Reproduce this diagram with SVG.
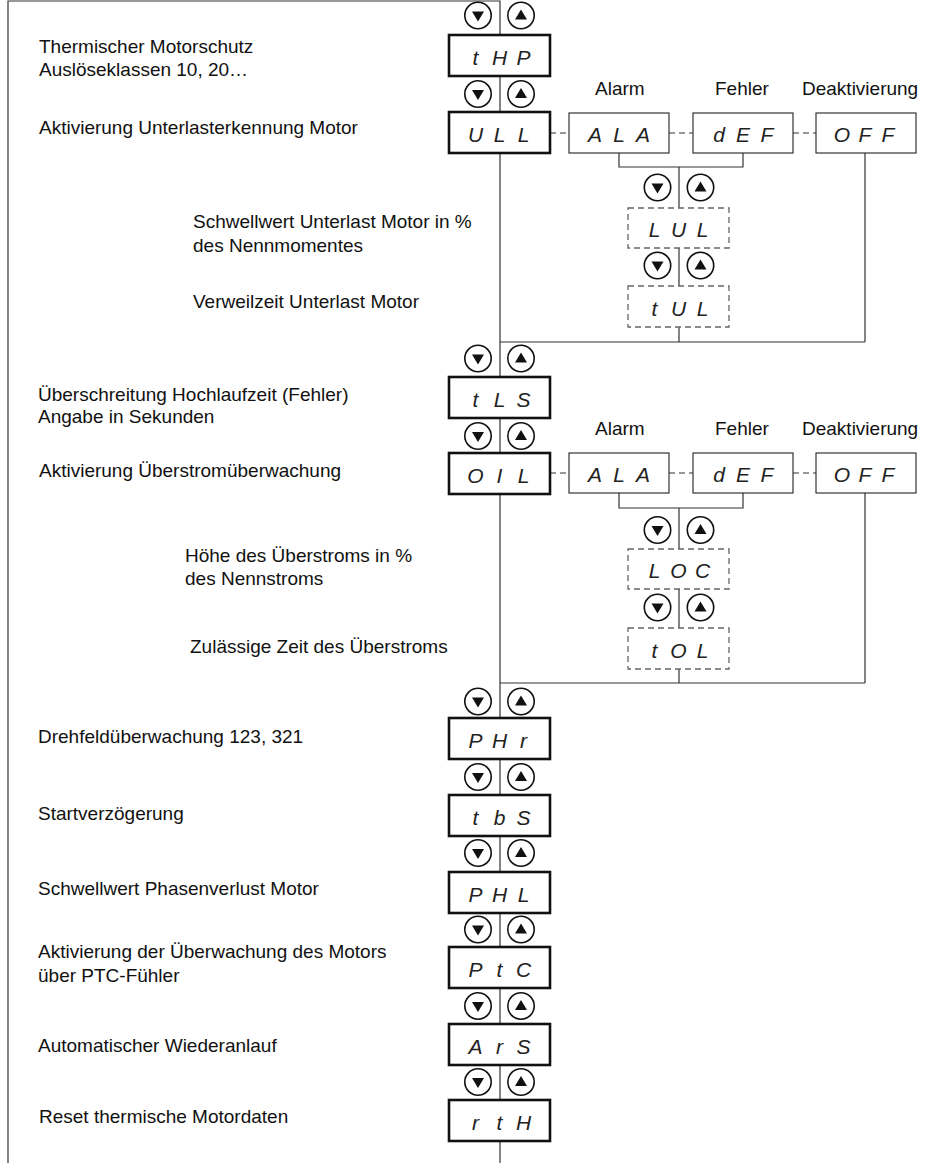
<svg xmlns="http://www.w3.org/2000/svg" xmlns:xlink="http://www.w3.org/1999/xlink" width="928" height="1163" viewBox="0 0 928 1163">
<style>
.lbl{font-family:"Liberation Sans",Arial,sans-serif;font-size:19px;fill:#111}
.seg{font-family:"Liberation Sans",Arial,sans-serif;font-style:italic;font-size:21px;fill:#222;text-anchor:middle}
.main{fill:#fff;stroke:#111;stroke-width:2.6}
.opt{fill:#fff;stroke:#222;stroke-width:1.1}
.dsh{fill:#fff;stroke:#666;stroke-width:1.3;stroke-dasharray:6 4}
.ln{stroke:#333;stroke-width:1.2;fill:none}
.dl{stroke:#333;stroke-width:1.2;fill:none;stroke-dasharray:6 4}
.bc{fill:#fff;stroke:#111;stroke-width:1.6}
.bt{fill:#111}
</style>
<defs>
<g id="btn">
<circle class="bc" cx="-21.5" cy="0" r="13.2"/>
<path class="bt" d="M-27.5,-4 H-15.5 L-21.5,6 Z"/>
<circle class="bc" cx="21.5" cy="0" r="13.2"/>
<path class="bt" d="M15.5,4 H27.5 L21.5,-6 Z"/>
</g>
</defs>
<rect width="928" height="1163" fill="#fff"/>
<g id="connectors">
<path class="ln" d="M8,1163 V1 H500 V1163"/>
<path class="dl" d="M550,133 H569 M669,133 H693 M793,133 H816"/>
<path class="ln" d="M619,153 V167 H743 V153 M679,167 V342 M865,153 V342 M500,342 H865"/>
<path class="dl" d="M550,473 H569 M669,473 H693 M793,473 H816"/>
<path class="ln" d="M619,493 V508 H743 V493 M679,508 V683 M865,493 V683 M500,683 H865"/>
</g>
<g id="buttons">
<use xlink:href="#btn" x="499.5" y="15.5"/>
<use xlink:href="#btn" x="499.5" y="94"/>
<use xlink:href="#btn" x="499.5" y="358.5"/>
<use xlink:href="#btn" x="499.5" y="436"/>
<use xlink:href="#btn" x="499.5" y="701.5"/>
<use xlink:href="#btn" x="499.5" y="777"/>
<use xlink:href="#btn" x="499.5" y="853"/>
<use xlink:href="#btn" x="499.5" y="929.5"/>
<use xlink:href="#btn" x="499.5" y="1006"/>
<use xlink:href="#btn" x="499.5" y="1082"/>
<use xlink:href="#btn" x="679" y="187.5"/>
<use xlink:href="#btn" x="679" y="265.5"/>
<use xlink:href="#btn" x="679" y="530"/>
<use xlink:href="#btn" x="679" y="607.5"/>
</g>
<g id="tHP"><rect class="main" x="449" y="35" width="101" height="41"/><text class="seg" x="475.5 499.5 523.5" y="64.5">tHP</text></g>
<g id="ULL"><rect class="main" x="449" y="112" width="101" height="41"/><text class="seg" x="475.5 499.5 523.5" y="141.5">ULL</text></g>
<g id="ALA1"><rect class="opt" x="569" y="113" width="100" height="40"/><text class="seg" x="595 619 643" y="142">ALA</text></g>
<g id="dEF1"><rect class="opt" x="693" y="113" width="100" height="40"/><text class="seg" x="719 743 767" y="142">dEF</text></g>
<g id="OFF1"><rect class="opt" x="816" y="113" width="100" height="40"/><text class="seg" x="842 865 888" y="142">OFF</text></g>
<g id="LUL"><rect class="dsh" x="628" y="208" width="101" height="40"/><text class="seg" x="654.5 678.5 702.5" y="237">LUL</text></g>
<g id="tUL"><rect class="dsh" x="628" y="286" width="101" height="41"/><text class="seg" x="654.5 678.5 702.5" y="315.5">tUL</text></g>
<g id="tLS"><rect class="main" x="449" y="377" width="101" height="41"/><text class="seg" x="475.5 499.5 523.5" y="406.5">tLS</text></g>
<g id="OIL"><rect class="main" x="449" y="453" width="101" height="41"/><text class="seg" x="475.5 499.5 523.5" y="482.5">OIL</text></g>
<g id="ALA2"><rect class="opt" x="569" y="453" width="100" height="40"/><text class="seg" x="595 619 643" y="482">ALA</text></g>
<g id="dEF2"><rect class="opt" x="693" y="453" width="100" height="40"/><text class="seg" x="719 743 767" y="482">dEF</text></g>
<g id="OFF2"><rect class="opt" x="816" y="453" width="100" height="40"/><text class="seg" x="842 865 888" y="482">OFF</text></g>
<g id="LOC"><rect class="dsh" x="628" y="549" width="101" height="40"/><text class="seg" x="654.5 678.5 702.5" y="578">LOC</text></g>
<g id="tOL"><rect class="dsh" x="628" y="628" width="101" height="41"/><text class="seg" x="654.5 678.5 702.5" y="657.5">tOL</text></g>
<g id="PHr"><rect class="main" x="449" y="718" width="101" height="41"/><text class="seg" x="475.5 499.5 523.5" y="747.5">PHr</text></g>
<g id="tbS"><rect class="main" x="449" y="795" width="101" height="41"/><text class="seg" x="475.5 499.5 523.5" y="824.5">tbS</text></g>
<g id="PHL"><rect class="main" x="449" y="872" width="101" height="41"/><text class="seg" x="475.5 499.5 523.5" y="901.5">PHL</text></g>
<g id="PtC"><rect class="main" x="449" y="947" width="101" height="41"/><text class="seg" x="475.5 499.5 523.5" y="976.5">PtC</text></g>
<g id="ArS"><rect class="main" x="449" y="1024" width="101" height="41"/><text class="seg" x="475.5 499.5 523.5" y="1053.5">ArS</text></g>
<g id="rtH"><rect class="main" x="449" y="1100" width="101" height="41"/><text class="seg" x="475.5 499.5 523.5" y="1129.5">rtH</text></g>
<g id="labels">
<text class="lbl" x="39" y="53">Thermischer Motorschutz</text>
<text class="lbl" x="39" y="76">Auslöseklassen 10, 20…</text>
<text class="lbl" x="39" y="134">Aktivierung Unterlasterkennung Motor</text>
<text class="lbl" x="595" y="95">Alarm</text>
<text class="lbl" x="715" y="95">Fehler</text>
<text class="lbl" x="802" y="95">Deaktivierung</text>
<text class="lbl" x="193" y="228">Schwellwert Unterlast Motor in %</text>
<text class="lbl" x="193" y="252">des Nennmomentes</text>
<text class="lbl" x="193" y="308">Verweilzeit Unterlast Motor</text>
<text class="lbl" x="38" y="401">Überschreitung Hochlaufzeit (Fehler)</text>
<text class="lbl" x="38" y="423">Angabe in Sekunden</text>
<text class="lbl" x="39" y="477">Aktivierung Überstromüberwachung</text>
<text class="lbl" x="595" y="435">Alarm</text>
<text class="lbl" x="715" y="435">Fehler</text>
<text class="lbl" x="802" y="435">Deaktivierung</text>
<text class="lbl" x="185" y="562">Höhe des Überstroms in %</text>
<text class="lbl" x="185" y="585">des Nennstroms</text>
<text class="lbl" x="190" y="653">Zulässige Zeit des Überstroms</text>
<text class="lbl" x="38" y="743">Drehfeldüberwachung 123, 321</text>
<text class="lbl" x="38" y="820">Startverzögerung</text>
<text class="lbl" x="38" y="895">Schwellwert Phasenverlust Motor</text>
<text class="lbl" x="38" y="958">Aktivierung der Überwachung des Motors</text>
<text class="lbl" x="38" y="982">über PTC-Fühler</text>
<text class="lbl" x="38" y="1052">Automatischer Wiederanlauf</text>
<text class="lbl" x="39" y="1123">Reset thermische Motordaten</text>
</g>
</svg>
